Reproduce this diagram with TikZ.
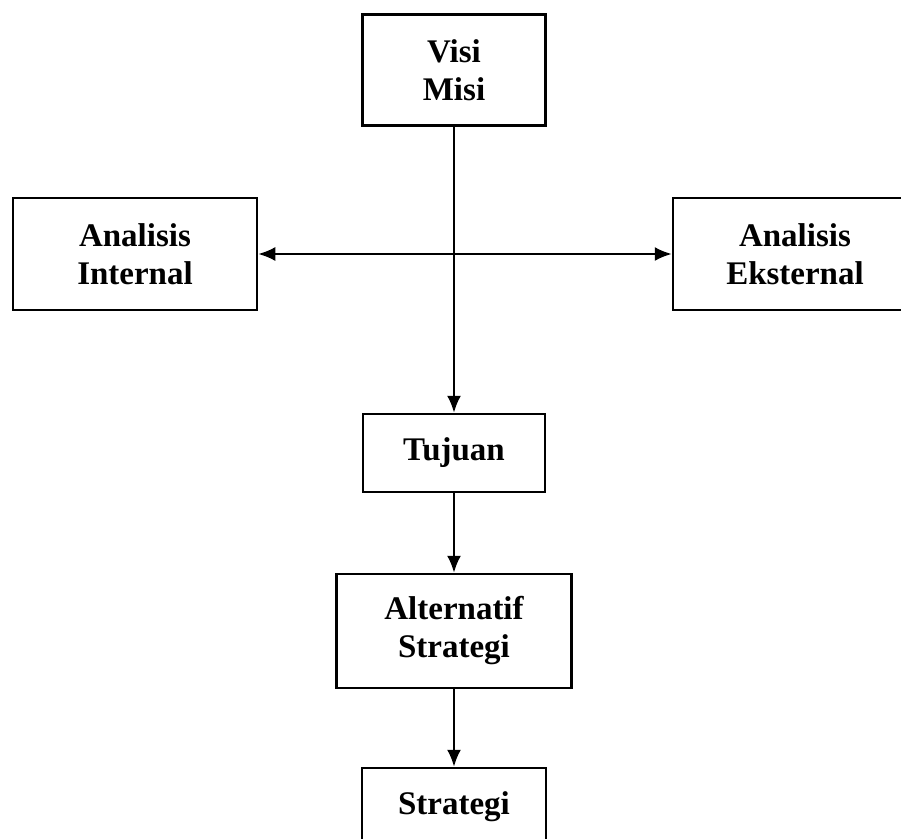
\documentclass[tikz,border=0pt]{standalone}
\usepackage{fontspec}
\setmainfont{Liberation Serif}
\usetikzlibrary{arrows.meta}
\begin{document}
\begin{tikzpicture}[x=1pt, y=-1pt, every node/.style={draw, line width=2.5pt, align=center, font=\bfseries\fontsize{33}{38}\selectfont}, arrow/.style={line width=2.2pt, -{Latex[length=17pt, width=14pt]}}]
		\clip (0, 0) rectangle (901, 838);
		\useasboundingbox (0, 0) rectangle (901, 838);
		\node[minimum width=183pt, minimum height=111pt] (visi) at (454, 70) {Visi\\Misi};
		\node[minimum width=244pt, minimum height=112pt] (internal) at (135, 254) {Analisis\\Internal};
		\node[minimum width=244pt, minimum height=112pt] (eksternal) at (795, 254) {Analisis\\Eksternal};
		\node[minimum width=182pt, minimum height=78pt] (tujuan) at (454, 453) {Tujuan};
		\node[minimum width=235pt, minimum height=114pt] (alternatif) at (454, 631) {Alternatif\\Strategi};
		\node[minimum width=184pt, minimum height=78pt] (strategi) at (454, 807) {Strategi};
		\draw[arrow] (visi) -- (tujuan);
		\draw[arrow, {Latex[length=17pt, width=14pt]}-{Latex[length=17pt, width=14pt]}] (internal) -- (eksternal);
		\draw[arrow] (tujuan) -- (alternatif);
		\draw[arrow] (alternatif) -- (strategi);
	\end{tikzpicture}
\end{document}
